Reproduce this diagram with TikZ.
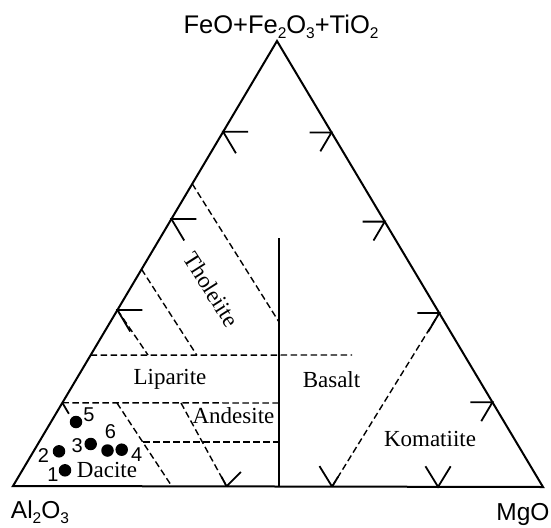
\documentclass[tikz,border=0pt]{standalone}
\usepackage{fontspec}
\setmainfont{Liberation Serif}
\newfontfamily\arialf{Liberation Sans}
\usetikzlibrary{calc}
\newcommand{\sbs}[1]{\raisebox{-0.22em}{\fontsize{15.5}{15.5}\selectfont #1}}
\begin{document}
\begin{tikzpicture}[x=1pt,y=-1pt,
  sideline/.style={line width=2pt, line join=miter},
  tickline/.style={line width=1.8pt},
  bnd/.style={line width=1.4pt, dash pattern=on 6.5pt off 3.5pt},
  solidbnd/.style={line width=1.9pt},
  corner/.style={font=\arialf\fontsize{24.5}{26}\selectfont, inner sep=0pt, anchor=base},
  topcorner/.style={font=\arialf\fontsize{25.5}{28}\selectfont, inner sep=0pt, anchor=base},
  rock/.style={font=\fontsize{23}{25}\selectfont, inner sep=0pt, anchor=base},
  num/.style={font=\arialf\fontsize{20}{22}\selectfont, inner sep=0pt},
  sample/.style={circle, fill=black, inner sep=0pt, minimum size=12.5pt}]
\useasboundingbox (0,0) rectangle (551,527);
% corners
\coordinate (A) at (13,486);
\coordinate (M) at (543,487);
\coordinate (F) at (277,41);
\draw[sideline] (A) -- (F) -- (M) -- cycle;
% ticks on left side
\coordinate (L1) at ($(A)!0.796!(F)$);
\coordinate (L2) at ($(A)!0.600!(F)$);
\coordinate (L3) at ($(A)!0.3955!(F)$);
\coordinate (L4) at ($(A)!0.187!(F)$);
\foreach \p in {L1,L2,L3} {
  \draw[tickline] (\p) +(25,0) -- (\p) -- +(12.8,21.5);
}
\draw[tickline] (L4) -- +(6.5,11);
% ticks on right side
\coordinate (R1) at ($(M)!0.795!(F)$);
\coordinate (R2) at ($(M)!0.595!(F)$);
\coordinate (R3) at ($(M)!0.390!(F)$);
\coordinate (R4) at ($(M)!0.190!(F)$);
\foreach \p in {R1,R2,R3,R4} {
  \draw[tickline] (\p) +(-22,0) -- (\p) -- +(-11.2,18.9);
}
% ticks on base
\coordinate (B1) at ($(A)!0.403!(M)$);
\coordinate (B2) at ($(A)!0.602!(M)$);
\coordinate (B3) at ($(A)!0.802!(M)$);
\draw[tickline] (B1) -- +(14.3,-14.5);
\draw[tickline] (B1) -- +(-5,-9.5);
\draw[tickline] (B2) -- +(-12.6,-20.5);
\draw[tickline] (B2) -- +(6,-9.8);
\draw[tickline] (B3) +(-12.6,-20.5) -- (B3) -- +(12.6,-20.5);
% vertical solid boundary
\coordinate (Vt) at (279,238);
\coordinate (Vb) at (279,486.5);
\draw[solidbnd] (Vt) -- (Vb);
% dashed boundaries
\coordinate (T1) at ($(A)!0.679!(F)$);
\coordinate (T1e) at (279,322);
\coordinate (T2) at ($(A)!0.487!(F)$);
\coordinate (T2e) at (196.7,355);
\coordinate (T3e) at (148,355);
\coordinate (H1s) at ($(A)!0.294!(F)$);
\coordinate (H1e) at (352,355);
\coordinate (H2e) at (279,403);
\coordinate (H3s) at (143,442);
\coordinate (H3e) at (279,442);
\coordinate (Ds) at (117,403);
\coordinate (De) at (172,486.5);
\coordinate (As) at (181,403);
\draw[bnd] (T1) -- (T1e);
\draw[bnd] (T2) -- (T2e);
\draw[bnd] (L3) -- (T3e);
\draw[bnd] (H1s) -- (H1e);
\draw[bnd] (L4) -- (H2e);
\draw[bnd] (H3s) -- (H3e);
\draw[bnd] (Ds) -- (De);
\draw[bnd] (As) -- (B1);
\draw[bnd] (B2) -- (R3);
% corner labels
\node[topcorner] (lf) at (281,33.3) {FeO+Fe\sbs{2}O\sbs{3}+TiO\sbs{2}};
\node[corner] (la) at (40,518.3) {Al\sbs{2}O\sbs{3}};
\node[corner] (lm) at (523,520.7) {MgO};
% rock labels
\node[rock, anchor=center, rotate=-57.5] (tho) at (211.5,289.5) {Tholeiite};
\node[rock] (lip) at (170,384) {Liparite};
\node[rock] (bas) at (331.5,387) {Basalt};
\node[rock] (and) at (233.5,423.5) {Andesite};
\node[rock] (dac) at (107,477.5) {Dacite};
\node[rock] (kom) at (430,446.7) {Komatiite};
% samples
\node[sample] (s5) at (76,422) {};
\node[sample] (s3) at (90.7,444) {};
\node[sample] (s6) at (107.5,450.5) {};
\node[sample] (s4) at (121.7,449.7) {};
\node[sample] (s2) at (59,451.3) {};
\node[sample] (s1) at (65,470.3) {};
\node[num] (n5) at (89,415) {5};
\node[num] (n6) at (110.5,431.7) {6};
\node[num] (n3) at (77.3,445.5) {3};
\node[num] (n4) at (136.7,455) {4};
\node[num] (n2) at (43.5,455.5) {2};
\node[num] (n1) at (53,474.3) {1};
\end{tikzpicture}
\end{document}
